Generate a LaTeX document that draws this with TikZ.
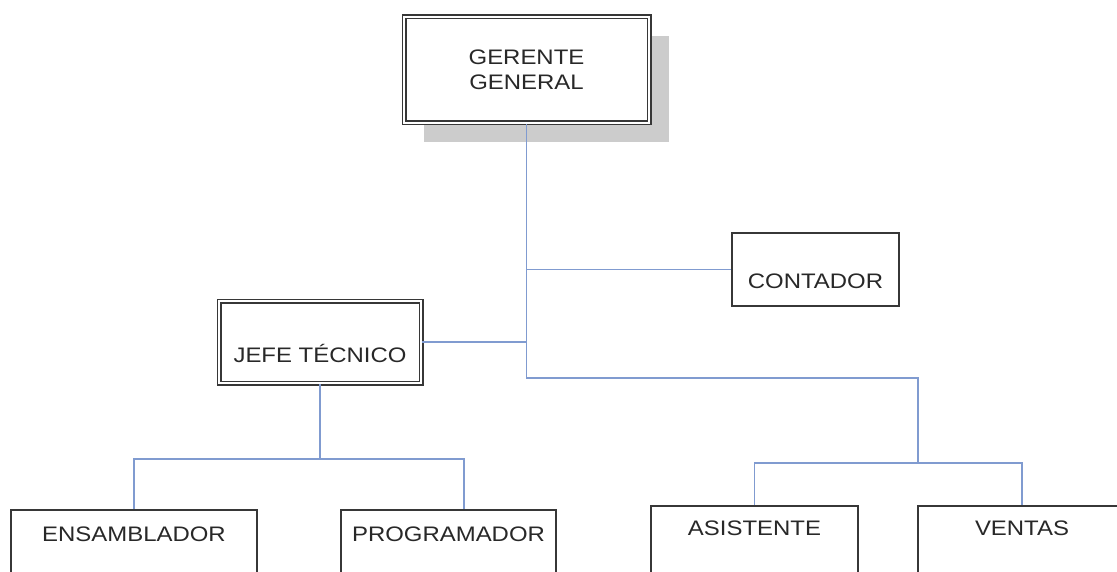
\documentclass[tikz,border=0pt]{standalone}
\usepackage{fontspec}
\setmainfont{Liberation Sans}[FakeStretch=1.14]
\usepackage{xcolor}
\usepackage{tikz}
\usetikzlibrary{
  positioning,
  calc,
  shadows}
\definecolor{azul}{RGB}{128,155,208}
\definecolor{borde}{RGB}{55,55,55}
\definecolor{texto}{RGB}{40,40,40}
\definecolor{sombra}{RGB}{204,204,204}
\tikzset{every picture/.style={font issue=\fontsize{21}{25}},
         font issue/.style={execute at begin picture={#1\selectfont}}
        }

\begin{document}
\begin{tikzpicture}[x=1pt, y=-1pt,
  puesto/.style={rectangle, draw=borde, line width=1.8pt, fill=white, text=texto, inner sep=0pt},
  jefe/.style={puesto, double=white, double distance=1.6pt, line width=1.7pt},
  linea/.style={draw=azul, line width=1.5pt}]
\useasboundingbox (0,0) rectangle (1117,572);
\clip (0,0) rectangle (1117,572);
\node[jefe, drop shadow={shadow xshift=20pt, shadow yshift=-19pt, fill=sombra, opacity=1}, minimum width=245pt, minimum height=106pt, align=center] (gerente) at (526.5,70) {GERENTE\\GENERAL};
\node[puesto, minimum width=167pt, text height=55pt, text depth=18pt] (contador) at (815.5,269.5) {CONTADOR};
\node[jefe, minimum width=202pt, text height=61pt, text depth=21pt] (tecnico) at (320,342) {JEFE TÉCNICO};
\node[puesto, minimum width=246pt, text height=31pt, text depth=69pt] (ensamblador) at (134,560) {ENSAMBLADOR};
\node[puesto, minimum width=215pt, text height=31pt, text depth=69pt] (programador) at (448.5,560) {PROGRAMADOR};
\node[puesto, minimum width=207pt, text height=29pt, text depth=71pt] (asistente) at (754.5,556) {ASISTENTE};
\node[puesto, minimum width=208pt, text height=29pt, text depth=71pt] (ventas) at (1022,556) {VENTAS};
% ramas
\coordinate (tronco) at (526.5,378);
\coordinate (ramaV) at (918,378);
\coordinate (ramaA) at (918,463);
\coordinate (ramaT) at (320,459);
\draw[linea] (gerente.south) -- (tronco) -- (ramaV) -- (ramaA);
\draw[linea] (contador.west) -- (contador.west -| gerente.south);
\draw[linea] (tecnico.east) -- (tecnico.east -| gerente.south);
\draw[linea] (tecnico.south) -- (ramaT);
\draw[linea] (ensamblador.north) |- (ramaT) -| ([xshift=15.5pt]programador.north);
\draw[linea] (asistente.north) |- (ramaA) -| (ventas.north);
\end{tikzpicture}
\end{document}
